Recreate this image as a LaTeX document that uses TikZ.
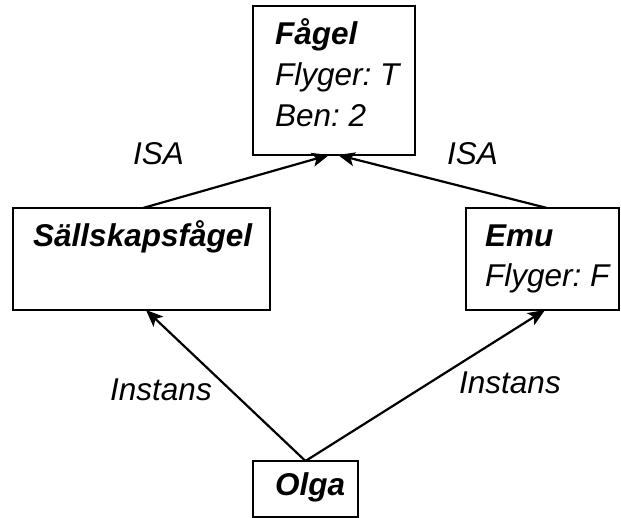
\documentclass[tikz,border=0pt]{standalone}
\usepackage{fontspec}
\setmainfont{Liberation Sans}
\usetikzlibrary{arrows.meta}
\frenchspacing
\begin{document}
\begin{tikzpicture}[x=1pt,y=-1pt,
  box/.style={draw, line width=2.2pt, inner sep=0pt, outer sep=0pt},
  lbl/.style={anchor=base west, inner sep=0pt, font=\fontsize{31.5}{36}\selectfont\itshape\frenchspacing},
  ttl/.style={anchor=base west, inner sep=0pt, font=\fontsize{31.5}{36}\selectfont\bfseries\itshape\frenchspacing},
  link/.style={line width=2.2pt, -{Stealth[length=17pt,width=14pt,inset=4pt]}}]
\useasboundingbox (0,0) rectangle (621,518);
% boxes
\node[box, minimum width=162pt, minimum height=149pt] (fagel) at (334,80.5) {};
\node[box, minimum width=257pt, minimum height=102pt] (sall) at (141.5,259) {};
\node[box, minimum width=153pt, minimum height=102pt] (emu) at (542.5,259) {};
\node[box, minimum width=105pt, minimum height=56pt] (olga) at (305.5,489) {};
% texts
\node[ttl] (t1) at (275,45) {Fågel};
\node[lbl] (t2) at (275,86) {Flyger: T};
\node[lbl] (t3) at (275,127) {Ben: 2};
\node[ttl] (t4) at (33,247) {Sällskapsfågel};
\node[ttl] (t5) at (485,247) {Emu};
\node[lbl] (t6) at (485,287) {Flyger: F};
\node[ttl] (t7) at (275,495) {Olga};
% connectors
\draw[link] ([xshift=130pt]sall.north west) -- ([xshift=-5pt]fagel.south);
\draw[link] ([xshift=81pt]emu.north west) -- ([xshift=4pt]fagel.south);
\draw[link] (olga.north) -- ([xshift=133pt]sall.south west);
\draw[link] (olga.north) -- ([xshift=79pt]emu.south west);
% labels
\node[lbl] (l1) at (133,165) {ISA};
\node[lbl] (l2) at (447,165) {ISA};
\node[lbl] (l3) at (110,400) {Instans};
\node[lbl] (l4) at (459,393) {Instans};
\end{tikzpicture}
\end{document}
